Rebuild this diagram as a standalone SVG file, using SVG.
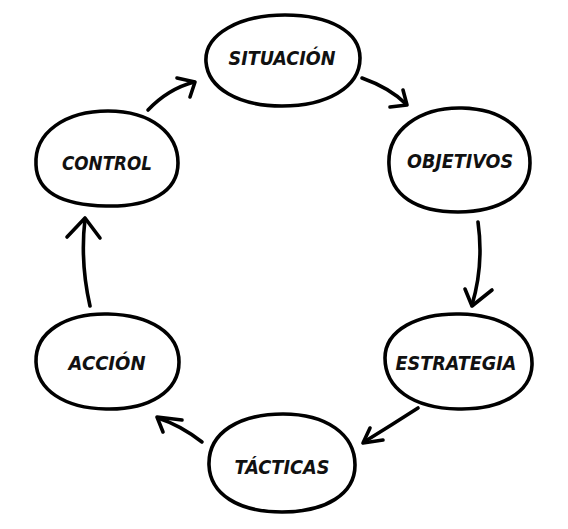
<svg xmlns="http://www.w3.org/2000/svg" width="568" height="529" viewBox="0 0 568 529">
<style>
.n{fill:#fff;stroke:#000;stroke-width:3.6;stroke-linecap:round;stroke-linejoin:round}
.t{font-family:"DejaVu Sans","Liberation Sans",sans-serif;font-weight:700;font-style:italic;font-size:20px;fill:#111;text-anchor:middle;dominant-baseline:central}
.c path{fill:none;stroke:#000;stroke-width:3.6;stroke-linecap:round;stroke-linejoin:round}
</style>
<rect width="568" height="529" fill="#fff"/>
<g id="situacion"><path class="n" d="M206,62 C204,34 240,15 285,15 C330,15 360,32 360,58 C360,88 326,106 282,106 C238,106 208,88 206,62 Z"/><text class="t" x="282" y="58" textLength="107" lengthAdjust="spacingAndGlyphs">SITUACIÓN</text></g>
<g id="objetivos"><path class="n" d="M389,165 C387,130 420,107 462,108 C505,109 530,132 530,163 C530,194 500,212 458,212 C416,212 390,195 389,165 Z"/><text class="t" x="460" y="161" textLength="106" lengthAdjust="spacingAndGlyphs">OBJETIVOS</text></g>
<g id="estrategia"><path class="n" d="M385,358 C385,330 418,313 460,314 C505,315 533,335 532,365 C531,393 500,410 458,409 C412,408 385,388 385,358 Z"/><text class="t" x="456" y="363" textLength="121" lengthAdjust="spacingAndGlyphs">ESTRATEGIA</text></g>
<g id="tacticas"><path class="n" d="M209,465 C208,432 240,414 283,414 C326,414 355,434 355,465 C355,494 326,512 282,512 C238,512 210,494 209,465 Z"/><text class="t" x="282" y="467" textLength="95" lengthAdjust="spacingAndGlyphs">TÁCTICAS</text></g>
<g id="accion"><path class="n" d="M36,362 C35,332 66,313 108,314 C150,315 179,333 179,362 C179,391 150,410 106,409 C64,408 37,390 36,362 Z"/><text class="t" x="107" y="363" textLength="77" lengthAdjust="spacingAndGlyphs">ACCIÓN</text></g>
<g id="control"><path class="n" d="M36,165 C34,132 66,111 108,111 C152,111 178,134 178,163 C178,192 150,207 106,206 C62,205 37,192 36,165 Z"/><text class="t" x="107" y="163" textLength="90" lengthAdjust="spacingAndGlyphs">CONTROL</text></g>
<g class="c" id="connectors">
<path d="M362,78 Q390,88 406,104"/><path d="M403,90 L407,105 L390,107"/>
<path d="M478,222 Q484,265 472,305"/><path d="M465,289 L472,306 L492,290"/>
<path d="M418,408 Q390,426 364,442"/><path d="M370,428 L363,443 L383,440"/>
<path d="M202,442 Q180,425 158,418"/><path d="M182,420 L157,417 L163,432"/>
<path d="M90,306 Q80,262 85,219"/><path d="M67,237 L85,218 L100,238"/>
<path d="M148,110 Q168,89 194,82"/><path d="M177,78 L195,82 L190,97"/>
</g>
</svg>
